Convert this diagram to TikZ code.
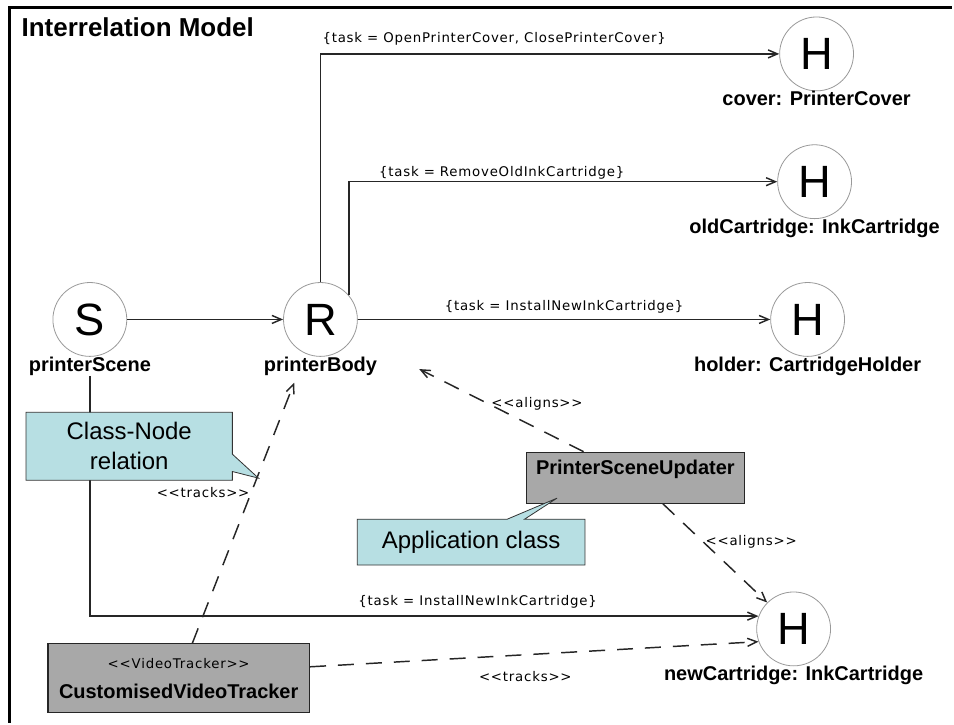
\documentclass[tikz,border=0pt]{standalone}
\usepackage{fontspec}
\setmainfont{Liberation Sans}
\newfontfamily\tagfont[LetterSpace=6]{DejaVu Sans}
\usetikzlibrary{shapes,arrows.meta,positioning,calc}
\definecolor{notefill}{RGB}{183,223,227}
\definecolor{classfill}{RGB}{168,168,168}
\tikzset{
state/.style = {draw=black!40, fill=white, circle, line width=0.6pt, minimum size=55.5pt, inner sep=0pt, font=\fontsize{34}{34}\selectfont, label distance=5pt},
objname/.style = {font=\bfseries\fontsize{15}{15}\selectfont, inner sep=0pt},
classbox/.style = {draw=black!85, fill=classfill, rectangle, line width=0.9pt, font=\bfseries\fontsize{15}{22.5}\selectfont, align=center},
note/.style = {rectangle callout, draw=black!80, fill=notefill, line width=0.6pt, callout pointer width=13pt, font=\fontsize{18}{22.5}\selectfont, align=center},
tag/.style = {font=\tagfont\fontsize{10}{11}\selectfont, inner sep=1pt},
flow/.style = {->, draw=black!85, line width=1.1pt},
dep/.style = {->, draw=black!85, line width=1.1pt, dash pattern=on 12pt off 9pt}
}

\begin{document}
\begin{tikzpicture}[x=0.75pt, y=-0.75pt, node distance=2cm, on grid, >={Straight Barb[length=7pt,width=6pt]}]
\fill[white] (0,0) rectangle (954,724);
\draw[line width=2.5pt] (9.5,724) |- (954,7.5);
\node[anchor=base west, font=\bfseries\fontsize{19.5}{20}\selectfont] (title) at (17,37) {Interrelation Model};

\node[state, label={[objname, name=sceneName]below:printerScene}] (S) at (90,320) {S};
\node[state, right=173.25pt of S, label={[objname, name=bodyName]below:printerBody}] (R) {R};
\node[state, right=366pt of R, label={[objname]below:{holder: CartridgeHolder}}] (holder) {H};
\node[state, above right=103.5pt and 5.25pt of holder, label={[objname]below:{oldCartridge: InkCartridge}}] (old) {H};
\node[state, above right=96pt and 1.5pt of old, label={[objname]below:{cover: PrinterCover}}] (cover) {H};
\node[state, below left=232.5pt and 10.5pt of holder, label={[objname]below:{newCartridge: InkCartridge}}] (newC) {H};

\node[classbox, below right=118.9pt and 236.6pt of R, minimum width=164pt, inner ysep=4pt, text height=12.5pt, text depth=17.75pt] (updater) {PrinterSceneUpdater};
\node[classbox, below right=269.6pt and 66.75pt of S, minimum width=196.5pt, minimum height=51.75pt] (tracker) {{\tagfont\mdseries\fontsize{10}{22.5}\selectfont <{}<VideoTracker>{}>}\\CustomisedVideoTracker};

\draw[flow] (S) -- (R);
\draw[flow] (R.north) |- node[tag, pos=0.5, anchor=south west, yshift=5pt] {\{task = OpenPrinterCover, ClosePrinterCover\}} (cover);
\draw[flow] (R.40) |- node[tag, pos=0.5, anchor=south west, xshift=21pt] {\{task = RemoveOldInkCartridge\}} (old);
\draw[flow] (R) -- node[tag, above, yshift=3pt] {\{task = InstallNewInkCartridge\}} (holder);
\draw[flow] (sceneName) |- node[tag, pos=0.79, above, yshift=4pt] {\{task = InstallNewInkCartridge\}} (newC.160);
\draw[dep, shorten >=55pt] (updater) -- node[tag, pos=0.41, anchor=west] {<{}<aligns>{}>} (R);
\draw[dep] (updater) -- node[tag, pos=0.39, anchor=west] {<{}<aligns>{}>} (newC.north west);
\draw[dep] (tracker) -- node[tag, pos=0.58, anchor=east] {<{}<tracks>{}>} ([xshift=23pt, yshift=-5pt]bodyName.south west);
\draw[dep] (tracker.5) -- node[tag, pos=0.48, below=11pt] {<{}<tracks>{}>} (newC.200);

\node[note, below right=95.25pt and 29.6pt of S, minimum width=155pt, minimum height=51pt, callout absolute pointer={(259,479)}] (classNote) {Class-Node\\relation};
\node[note, below left=48.4pt and 123.4pt of updater, minimum width=171pt, minimum height=34.5pt, callout absolute pointer={(558,499)}] (appNote) {Application class};
\end{tikzpicture}
\end{document}
